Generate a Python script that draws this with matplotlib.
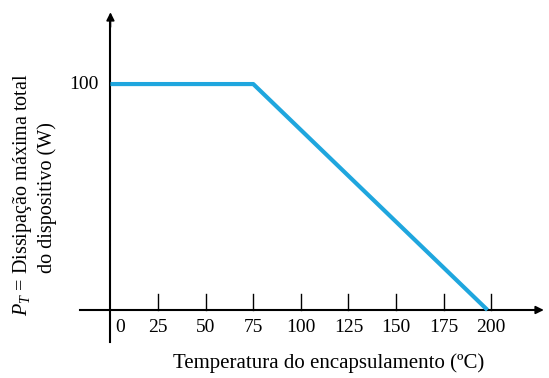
import matplotlib.pyplot as plt

plt.rcParams['font.family'] = 'Liberation Serif'
plt.rcParams['mathtext.fontset'] = 'custom'
plt.rcParams['mathtext.rm'] = 'Liberation Serif'
plt.rcParams['mathtext.it'] = 'Liberation Serif:italic'

# curva de derating
temp = [0, 75, 198]
potencia = [100, 100, 0]
x_ticks = [25, 50, 75, 100, 125, 150, 175, 200]
x_labels = ['0', '25', '50', '75', '100', '125', '150', '175', '200']
y_label_val = 100

fig = plt.figure(figsize=(5.49, 3.78), dpi=100)
ax = fig.add_axes([0, 0, 1, 1])
# mapeamento px -> dados
ax.set_xlim(-58.0, 230.3)
ax.set_ylim(-30.1, 137.2)
ax.axis('off')

# eixos
ax.plot([-16, 226], [0, 0], color='black', lw=1.5)
ax.plot([0, 0], [-14, 128], color='black', lw=1.5)
ax.annotate('', xy=(229, 0), xytext=(220, 0),
            arrowprops=dict(arrowstyle='-|>', color='black', lw=1.2, mutation_scale=12))
ax.annotate('', xy=(0, 133), xytext=(0, 124),
            arrowprops=dict(arrowstyle='-|>', color='black', lw=1.2, mutation_scale=12))

# marcas
for t in x_ticks:
    ax.plot([t, t], [0, 7], color='black', lw=1.0)

for i, lab in enumerate(x_labels):
    xpos = 25 * i
    if i == 0:
        xpos = 5
    ax.text(xpos, -7.7, lab, ha='center', va='center', fontsize=14)

ax.text(-6.0, y_label_val, str(y_label_val), ha='right', va='center', fontsize=14)

ax.plot(temp, potencia, color='#1fa6de', lw=3, solid_capstyle='butt')

ax.text(114.6, -23.5, 'Temperatura do encapsulamento (ºC)', ha='center', va='center', fontsize=15)
ax.text(-46.0, 50.9, r'$P_T$ = Dissipação máxima total', rotation=90,
        ha='center', va='center', fontsize=14.5)
ax.text(-33.3, 49.6, 'do dispositivo (W)', rotation=90,
        ha='center', va='center', fontsize=14.5)

plt.savefig('out.png', dpi=100)
